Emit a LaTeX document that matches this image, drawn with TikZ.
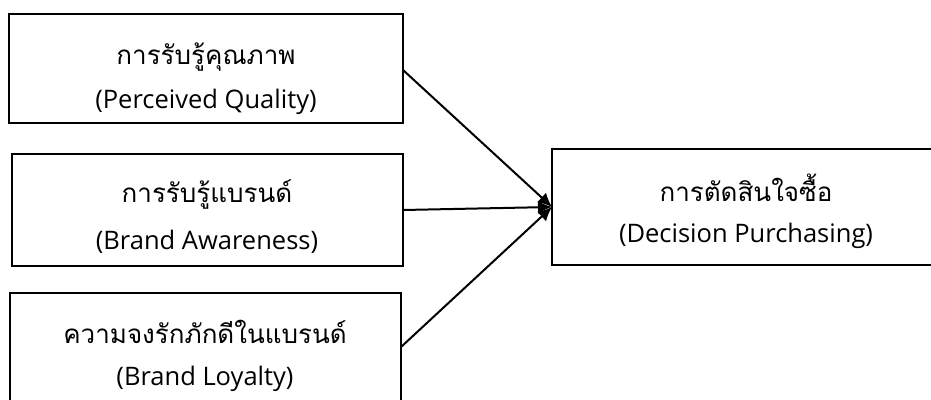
\documentclass[tikz,border=0pt]{standalone}
\usepackage{fontspec}
\setmainfont{Open Sans}
\newfontfamily\thaifont[Script=Thai]{Loma}
\usetikzlibrary{arrows.meta}
\tikzset{
  th/.style={font=\thaifont\fontsize{26}{30}\selectfont, anchor=center, inner sep=0pt},
  en/.style={font=\fontsize{25.5}{30}\selectfont, anchor=center, inner sep=0pt},
  frame/.style={line width=2pt},
  link/.style={line width=2pt, -{Latex[length=14pt,width=13pt]}},
}
\begin{document}
\begin{tikzpicture}[x=1pt,y=-1pt]
\useasboundingbox (0,0) rectangle (931,399);
\clip (0,0) rectangle (931,399);
% boxes
\draw[frame] (9,14) rectangle (403,123);
\draw[frame] (12,154) rectangle (403,266);
\draw[frame] (10,293) rectangle (401,402);
\draw[frame] (552,149) rectangle (942,265);
\coordinate (A) at (403,70);
\coordinate (B) at (403,210);
\coordinate (C) at (401,347);
\coordinate (D) at (552,207);
\node[th] (a1) at (206,57) {การรับรู้คุณภาพ};
\node[en] (a2) at (206,102) {(Perceived Quality)};
\node[th] (b1) at (207,194) {การรับรู้แบรนด์};
\node[en] (b2) at (207,242) {(Brand Awareness)};
\node[th] (c1) at (205,332) {ความจงรักภักดีในแบรนด์};
\node[en] (c2) at (205,379) {(Brand Loyalty)};
\node[th] (d1) at (746,188) {การตัดสินใจซื้อ};
\node[en] (d2) at (746,236) {(Decision Purchasing)};
\draw[link] (A) -- (D);
\draw[link] (B) -- (D);
\draw[link] (C) -- (D);
\end{tikzpicture}
\end{document}
